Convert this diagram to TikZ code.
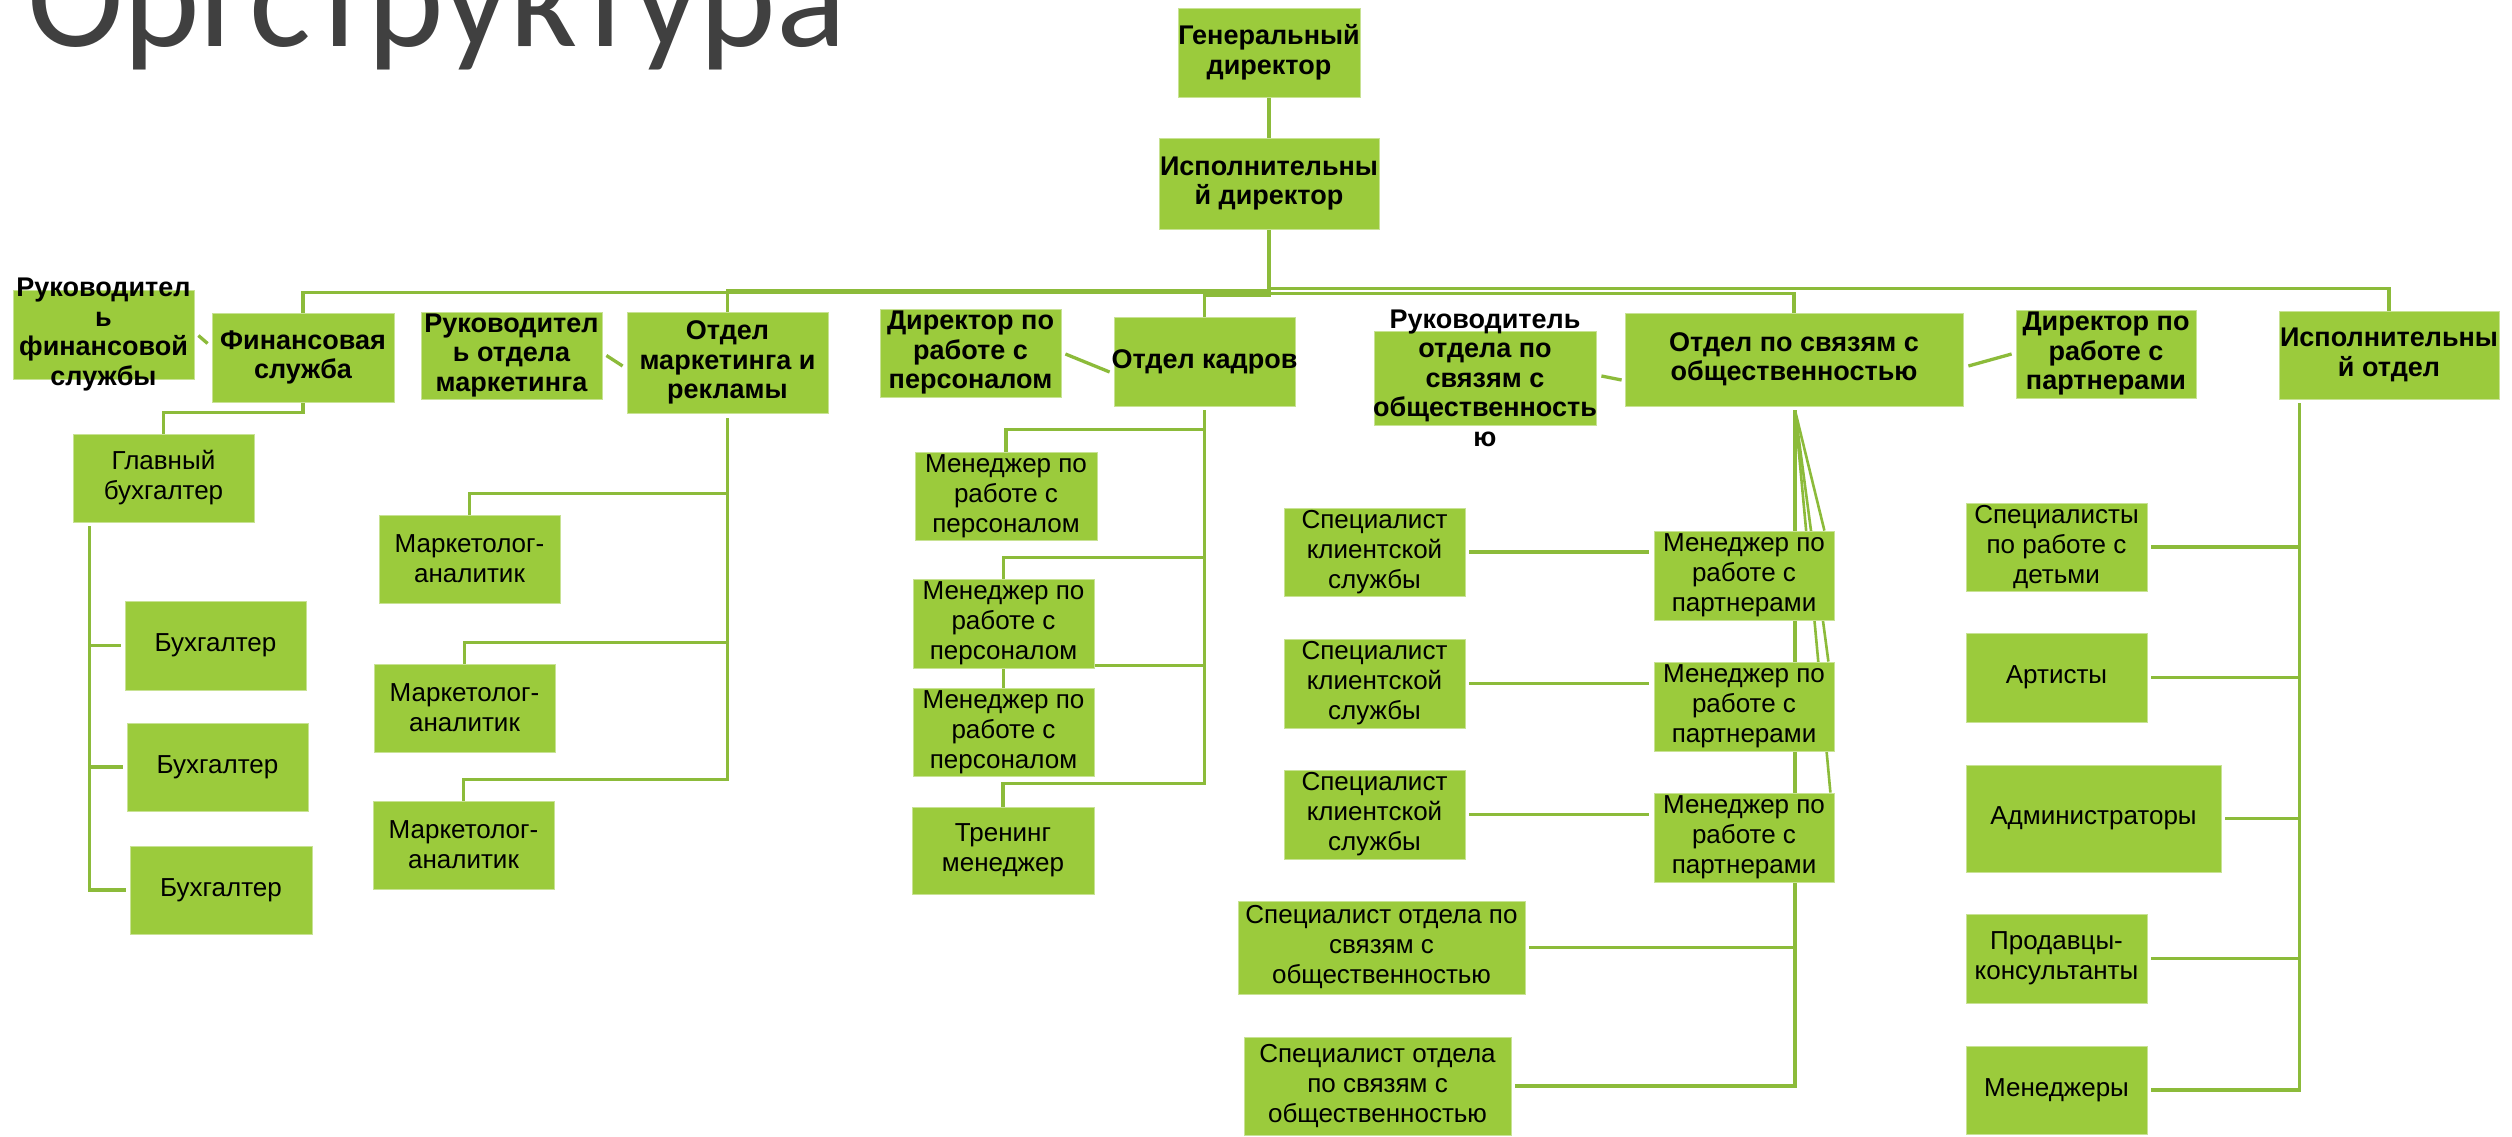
\documentclass[tikz,border=0pt]{standalone}
\usepackage{fontspec}
\setmainfont{Liberation Sans}
\newfontfamily\titlefont{Carlito}
\usetikzlibrary{calc}
\pgfdeclarelayer{background}
\pgfsetlayers{background,main}
\definecolor{boxgreen}{HTML}{9BCB3C}
\definecolor{linegreen}{HTML}{8CBB3A}
\definecolor{titlegray}{HTML}{404040}
\tikzset{
  boxshape/.style={rectangle, fill=boxgreen, draw=boxgreen!55!white, line width=0.8pt, inner sep=0pt},
  headtext/.style={font=\fontsize{27}{29.5}\selectfont\bfseries, align=center, inner sep=0pt, text=black},
  bodytext/.style={font=\fontsize{26}{30}\selectfont, align=center, inner sep=0pt, text=black},
  conn/.style={draw=linegreen, line width=3.3pt},
}
\newcommand{\orgbox}[7]{%
  \node[boxshape, minimum width=#4pt, minimum height=#5pt] (#1) at (#2,#3) {};
  \node[#6] (#1-t) at (#1.center) {#7};
}
\begin{document}
\begin{tikzpicture}[x=1pt,y=-1pt]
\useasboundingbox (0,0) rectangle (2512,1137);
\clip (0,0) rectangle (2512,1137);

% title
\node[anchor=base west, inner sep=0pt, text=titlegray, font=\titlefont\fontsize{146}{150}\selectfont] (title) at (27,47) {Оргструктура};

% level 0/1
\orgbox{gd}{1269}{52.5}{182}{89}{headtext}{Генеральный\\директор}
\orgbox{ed}{1269}{183.5}{220}{91}{headtext}{Исполнительны\\й директор}
\orgbox{rfs}{103.5}{334.5}{181}{89}{headtext}{Руководител\\ь\\финансовой\\службы}
\orgbox{fs}{303}{357.5}{182}{89}{headtext}{Финансовая\\служба}
\orgbox{rom}{511.5}{355.5}{181}{87}{headtext}{Руководител\\ь отдела\\маркетинга}
\orgbox{om}{727.5}{362.5}{201}{101}{headtext}{Отдел\\маркетинга и\\рекламы}
\orgbox{dp}{970.5}{353}{181}{88}{headtext}{Директор по\\работе с\\персоналом}
\orgbox{ok}{1204.5}{361.5}{181}{89}{headtext}{Отдел кадров}
\orgbox{rpr}{1485}{378}{222}{94}{headtext}{Руководитель\\отдела по\\связям с\\общественность\\ю}
\orgbox{pr}{1794}{359.5}{338}{93}{headtext}{Отдел по связям с\\общественностью}
\orgbox{dpp}{2106}{354}{180}{88}{headtext}{Директор по\\работе с\\партнерами}
\orgbox{io}{2389}{355}{220}{88}{headtext}{Исполнительны\\й отдел}

% level 2
\orgbox{gb}{163.5}{478}{181}{88}{bodytext}{Главный\\бухгалтер}
\orgbox{b1}{215.5}{645.5}{181}{89}{bodytext}{Бухгалтер}
\orgbox{b2}{217.5}{767}{181}{88}{bodytext}{Бухгалтер}
\orgbox{b3}{221}{890}{182}{88}{bodytext}{Бухгалтер}
\orgbox{m1}{469.5}{559}{181}{88}{bodytext}{Маркетолог-\\аналитик}
\orgbox{m2}{464.5}{708}{181}{88}{bodytext}{Маркетолог-\\аналитик}
\orgbox{m3}{463.5}{845}{181}{88}{bodytext}{Маркетолог-\\аналитик}
\orgbox{mp1}{1006}{496}{182}{88}{bodytext}{Менеджер по\\работе с\\персоналом}
\orgbox{mp2}{1003.5}{623.5}{181}{89}{bodytext}{Менеджер по\\работе с\\персоналом}
\orgbox{mp3}{1003.5}{732}{181}{88}{bodytext}{Менеджер по\\работе с\\персоналом}
\orgbox{tm}{1003}{850.5}{182}{87}{bodytext}{Тренинг\\менеджер}
\orgbox{sk1}{1374.5}{552}{181}{88}{bodytext}{Специалист\\клиентской\\службы}
\orgbox{sk2}{1374.5}{683.5}{181}{89}{bodytext}{Специалист\\клиентской\\службы}
\orgbox{sk3}{1374.5}{814.5}{181}{89}{bodytext}{Специалист\\клиентской\\службы}
\orgbox{mpp1}{1744}{575.5}{180}{89}{bodytext}{Менеджер по\\работе с\\партнерами}
\orgbox{mpp2}{1744}{706.5}{180}{89}{bodytext}{Менеджер по\\работе с\\партнерами}
\orgbox{mpp3}{1744}{837.5}{180}{89}{bodytext}{Менеджер по\\работе с\\партнерами}
\orgbox{so1}{1381.5}{947.5}{287}{93}{bodytext}{Специалист отдела по\\связям с\\общественностью}
\orgbox{so2}{1377.5}{1086}{267}{98}{bodytext}{Специалист отдела\\по связям с\\общественностью}
\orgbox{sd}{2056.5}{547}{181}{88}{bodytext}{Специалисты\\по работе с\\детьми}
\orgbox{ar}{2056.5}{677.5}{181}{89}{bodytext}{Артисты}
\orgbox{adm}{2093.5}{818.5}{255}{107}{bodytext}{Администраторы}
\orgbox{pk}{2056.5}{958.5}{181}{89}{bodytext}{Продавцы-\\консультанты}
\orgbox{men}{2056.5}{1090}{181}{88}{bodytext}{Менеджеры}

\begin{pgfonlayer}{background}
\fill[white] (0,0) rectangle (2512,1137);
% top
\draw[conn] (gd.south) -- (ed.north);
\draw[conn] (ed.south) -- ++(0,63) -| (fs.north);
\draw[conn] (ed.south) -- ++(0,61) -| (om.north);
\draw[conn] (ed.south) -- ++(0,66) -| (ok.north);
\draw[conn] (ed.south) -- ++(0,64) -| (pr.north);
\draw[conn] (ed.south) -- ++(0,59) -| (io.north);
% assistants
\draw[conn] ($(rfs.east)+(4,1)$) -- ($(fs.west)+(-4,-14)$);
\draw[conn] ($(rom.east)+(4,0)$) -- ($(om.west)+(-4,3.5)$);
\draw[conn] ($(dp.east)+(4,1)$) -- ($(ok.west)+(-4,10.5)$);
\draw[conn] ($(rpr.east)+(5,-2)$) -- ($(pr.west)+(-3,20.5)$);
\draw[conn] ($(pr.east)+(5,6.5)$) -- ($(dpp.west)+(-4,0)$);
% finance
\draw[conn] (fs.south) -- ++(0,10) -| (gb.north);
\coordinate (gbs) at ($(gb.south west)+(17,4)$);
\draw[conn] (gbs) |- ($(b1.west)+(-4,0)$);
\draw[conn] (gbs) |- ($(b2.west)+(-4,0)$);
\draw[conn] (gbs) |- ($(b3.west)+(-4,0)$);
% marketing
\coordinate (oms) at ($(om.south)+(0,5)$);
\draw[conn] (oms) |- ($(m1.north)+(0,-21)$) -- (m1.north);
\draw[conn] (oms) |- ($(m2.north)+(0,-21)$) -- (m2.north);
\draw[conn] (oms) |- ($(m3.north)+(0,-21)$) -- (m3.north);
% HR
\coordinate (oks) at ($(ok.south)+(0,4)$);
\draw[conn] (oks) |- ($(mp1.north)+(0,-22)$) -- (mp1.north);
\draw[conn] (oks) |- ($(mp2.north)+(0,-21)$) -- (mp2.north);
\draw[conn] (oks) |- ($(mp3.north)+(0,-22)$) -- (mp3.north);
\draw[conn] (oks) |- ($(tm.north)+(0,-23)$) -- (tm.north);
% PR
\coordinate (prs) at ($(pr.south)+(1,4)$);
\draw[conn] (prs) |- ($(so2.east)+(4,0)$);
\draw[conn] (prs |- so1.east) -- ($(so1.east)+(4,0)$);
\draw[conn, line width=2.6pt] (prs) -- ($(mpp1.north east)+(-10,0)$);
\draw[conn, line width=2.6pt] (prs) -- ($(mpp2.north east)+(-6,0)$);
\draw[conn, line width=2.6pt] (prs) -- ($(mpp3.north east)+(-4,0)$);
\draw[conn] ($(sk1.east)+(4,0)$) -- ($(sk1.east -| mpp1.west)+(-5,0)$);
\draw[conn] ($(sk2.east)+(4,0)$) -- ($(sk2.east -| mpp2.west)+(-5,0)$);
\draw[conn] ($(sk3.east)+(4,0)$) -- ($(sk3.east -| mpp3.west)+(-5,0)$);
% executive dept
\coordinate (ios) at ($(io.south west)+(21,4)$);
\draw[conn] (ios) |- ($(sd.east)+(4,0)$);
\draw[conn] (ios) |- ($(ar.east)+(4,0)$);
\draw[conn] (ios) |- ($(adm.east)+(4,0)$);
\draw[conn] (ios) |- ($(pk.east)+(4,0)$);
\draw[conn] (ios) |- ($(men.east)+(4,0)$);
\end{pgfonlayer}
\end{tikzpicture}
\end{document}
